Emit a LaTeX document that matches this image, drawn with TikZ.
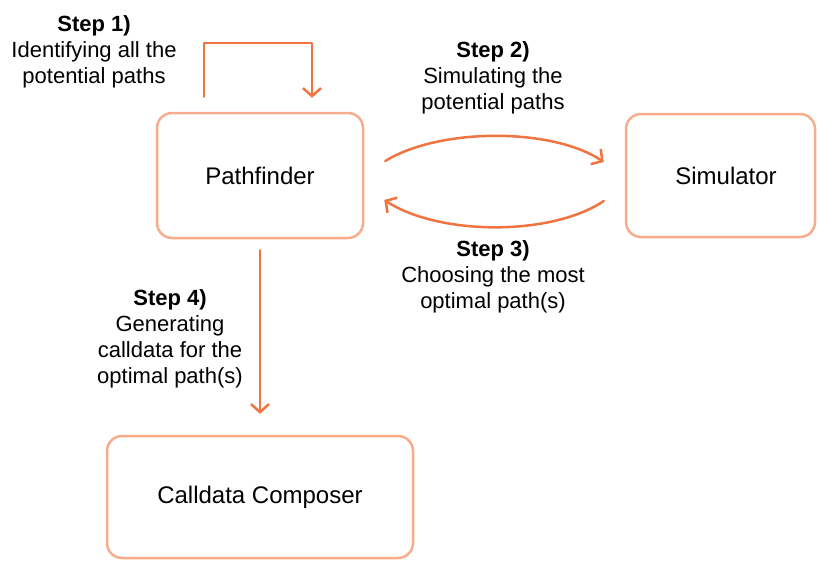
\documentclass[tikz,border=0pt]{standalone}
\usepackage{fontspec}
\setmainfont{Liberation Sans}
\usetikzlibrary{arrows.meta}
\definecolor{boxline}{RGB}{248,172,140}
\definecolor{flow}{RGB}{240,115,64}
\tikzset{
  stage/.style={draw=boxline, line width=2.5pt, rounded corners=15pt,
    inner sep=0pt, font=\fontsize{24}{28}\selectfont, text=black},
  arr/.style={draw=flow, line width=2.5pt, line cap=round, line join=round,
    -{Straight Barb[length=8pt,width=18pt,line width=2.5pt]}},
  note/.style={align=center, anchor=base, font=\fontsize{22}{26}\selectfont, text=black}
}
\begin{document}
\begin{tikzpicture}[x=1pt,y=-1pt]
\useasboundingbox (0,0) rectangle (818,560);

% boxes
\node[stage, minimum width=206pt, minimum height=125pt] (pf) at (260,175.5) {Pathfinder};
\node[stage, minimum width=189pt, minimum height=123pt,
  label={[font=\fontsize{24}{28}\selectfont, xshift=5.5pt]center:Simulator}] (sim) at (720.5,175.5) {};
\node[stage, minimum width=306pt, minimum height=122pt] (cc) at (260,497) {Calldata Composer};

% step labels (anchored at the baseline of the last line)
\node[note] (s1) at (94,83) {\textbf{Step 1)}\\Identifying all the\\potential paths};
\node[note] (s2) at (493,109) {\textbf{Step 2)}\\Simulating the\\potential paths};
\node[note] (s3) at (493,308) {\textbf{Step 3)}\\Choosing the most\\optimal path(s)};
\node[note] (s4) at (170,383) {\textbf{Step 4)}\\Generating\\calldata for the\\optimal path(s)};

% connectors
\draw[arr] ([xshift=-56pt,yshift=15pt]pf.north) -- ++(0,-54) -| ([xshift=52pt,yshift=14pt]pf.north);
\draw[arr] ([xshift=21pt,yshift=14.5pt]pf.east) .. controls (440,127.5) and (552,127.5) .. ([xshift=-21pt,yshift=13.5pt]sim.west);
\draw[arr] ([xshift=-21pt,yshift=-25.5pt]sim.west) .. controls (552,236) and (440,236) .. ([xshift=20pt,yshift=-24.5pt]pf.east);
\draw[arr] ([yshift=-11pt]pf.south) -- ([yshift=21pt]cc.north);
\end{tikzpicture}
\end{document}
